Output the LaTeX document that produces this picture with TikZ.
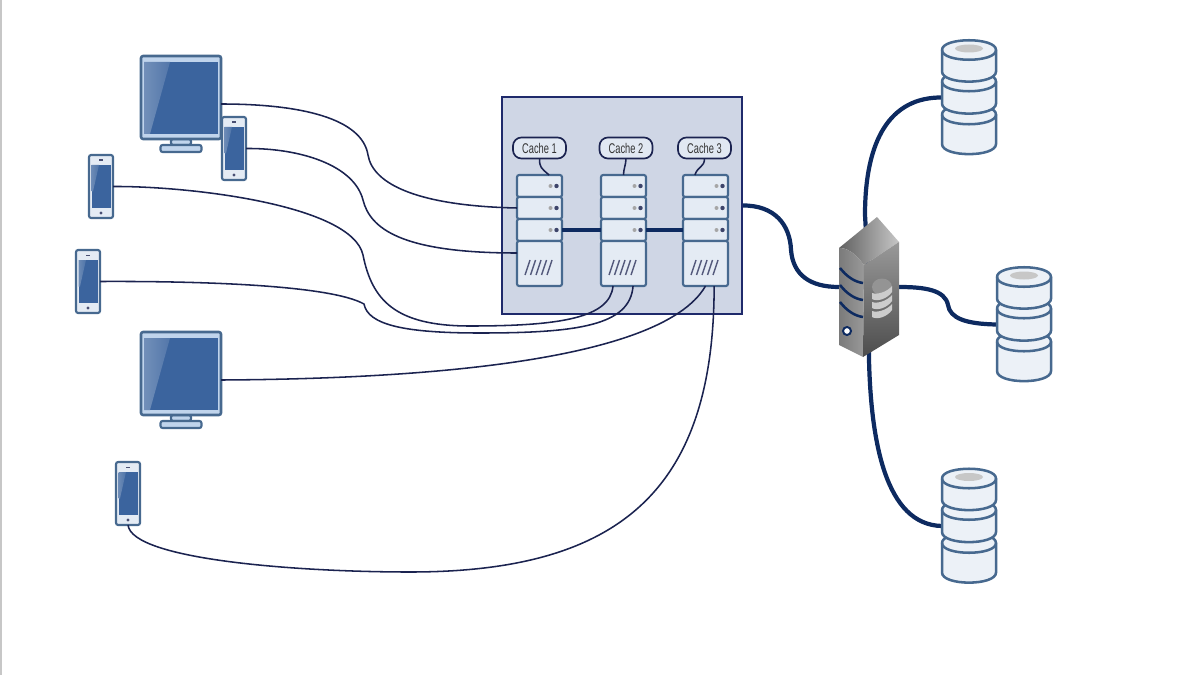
\documentclass[tikz,border=0pt]{standalone}
\usepackage{fontspec}
\setmainfont{Liberation Sans}
\newfontfamily\cachefont{Liberation Sans}[FakeStretch=.66]
\usepackage{xcolor}
\usetikzlibrary{backgrounds}
\definecolor{wire}{HTML}{1B2350}
\definecolor{trunk}{HTML}{0D2A60}
\definecolor{edge}{HTML}{47698F}
\definecolor{pale}{HTML}{E4EBF4}
\definecolor{frame}{HTML}{C0D4EC}
\definecolor{screen}{HTML}{3B649E}
\definecolor{boxfill}{HTML}{CFD6E5}
\definecolor{boxline}{HTML}{1F2A6B}

\begin{document}
\begin{tikzpicture}[
    x=0.025cm,y=-0.025cm,
    every node/.style={outer sep=0pt,inner sep=0pt},
    thin wire/.style={wire,line width=1.1pt},
    thick wire/.style={trunk,line width=3pt},
    part/.style={draw=edge,fill=pale,line width=1.5pt,rounded corners=1.5pt},
    unit/.style={part,minimum width=1.125cm,minimum height=0.55cm},
    base unit/.style={part,minimum width=1.125cm,minimum height=1.125cm},
    cache tag/.style={draw=wire,fill=pale!85!boxfill,line width=1.2pt,rounded corners=6pt,
        minimum width=1.325cm,minimum height=0.525cm,font=\cachefont\fontsize{10}{12}\selectfont,text=black!80},
    pics/monitor/.style={code={
        \node[minimum width=2cm,minimum height=2.4cm] (-body) at (0,0) {};
        \draw[part,fill=frame] (-10,35) rectangle (10,41);
        \draw[part,fill=frame] (-20.5,41) rectangle (20.5,48);
        \draw[part,fill=frame,line width=1.8pt] (-40,-48) rectangle (40,35);
        \fill[screen] (-37,-42) rectangle (37,30);
        \shade[left color=screen!72!white,right color=screen!88!white] (-37,-42) -- (-11,-42) -- (-31,30) -- (-37,30) -- cycle;
    }},
    pics/phone/.style={code={
        \node[part,minimum width=0.6cm,minimum height=1.575cm] (-body) at (0,0) {};
        \fill[screen] (-9.5,-21.5) rectangle (9.5,21.5);
        \shade[left color=screen!75!white,right color=screen!90!white] (-9.5,-21.5) -- (-2,-21.5) -- (-8,5) -- (-9.5,5) -- cycle;
        \fill[wire!80] (-2,-27) rectangle (2,-25.5);
        \fill[wire!80] (0,26.5) circle (1.7);
    }},
    pics/barrel/.style={code={
        \node[minimum width=1.35cm,minimum height=2.875cm] (-body) at (0,0) {};
        % bottom disc first, the upper ones lie over it
        \foreach \t/\b in {17/46.5,-16/6,-47.5/-26} {
            \draw[draw=edge,fill=pale!70!white,line width=1.8pt]
                (-27,\t) -- (-27,\b) .. controls (-27,\b+13.5) and (27,\b+13.5) .. (27,\b)
                -- (27,\t) .. controls (27,\t-13) and (-27,\t-13) .. (-27,\t) -- cycle;
            \draw[edge,line width=1.8pt] (-27,\t) .. controls (-27,\t+13) and (27,\t+13) .. (27,\t);
        }
        \fill[black!22] (0,-49) ellipse (14 and 4);
    }},
]
\useasboundingbox (0,0) rectangle (1200,675);
\draw[black!22,line width=1.4pt] (1,0) -- (1,675);

% Cache cluster
\node[draw=boxline,fill=boxfill,line width=1.1pt,minimum width=6cm,minimum height=5.425cm] (cluster) at (622,205.5) {};

\foreach \n/\x/\tx in {1/539.5/539.5,2/623.5/626,3/705.5/704.5} {
    \node[unit] (c\n a) at (\x,186) {};
    \node[unit] (c\n b) at (\x,208) {};
    \node[unit] (c\n c) at (\x,230) {};
    \node[base unit] (c\n d) at (\x,263.5) {};
    \node[cache tag] (tag\n) at (\tx,148) {Cache \n};
    \foreach \y in {186,208,230} {
        \fill[black!35] (\x+11,\y) circle (2);
        \fill[wire!85] (\x+17,\y) circle (2.2);
    }
    \foreach \s in {-12,-6.5,-1,4.5,10} {
        \draw[wire!75,line width=1pt] (\x+\s-2.5,275) -- (\x+\s+2.5,260);
    }
}
\draw[wire,line width=1.1pt] (tag1.south) .. controls +(0,9) and +(-8,-7) .. (c1a.49);
\draw[wire,line width=1.1pt] (tag2.south) .. controls +(0,6) and +(0,-6) .. (c2a.north);
\draw[wire,line width=1.1pt] (tag3.south) .. controls +(0,9) and +(3,-9) .. (c3a.134);

% Links along the cluster
\draw[trunk,line width=3.4pt] (c1c.east) -- (c2c.west);
\draw[trunk,line width=3.4pt] (c2c.east) -- (c3c.west);

% Client devices
\pic (mon1) at (181,104) {monitor};
\pic (mon2) at (181,380) {monitor};
\pic (ph1) at (234,148.5) {phone};
\pic (ph2) at (101,186.5) {phone};
\pic (ph3) at (88,281.5) {phone};
\pic (ph4) at (128,493.5) {phone};

% Client wires
\draw[thin wire] (mon1-body.east) .. controls (300,104) and (362,118) .. (368,155)
    .. controls (373,185) and (420,206) .. (c1b.west);
\draw[thin wire] (ph1-body.east) .. controls (300,148) and (354,165) .. (363,200)
    .. controls (370,228) and (400,253) .. (c1d.155);
\draw[thin wire] (ph2-body.east) .. controls (190,186) and (352,205) .. (363,255)
    .. controls (372,300) and (395,326) .. (470,326)
    .. controls (560,326) and (610,318) .. (c2d.245);
\draw[thin wire] (ph3-body.east) .. controls (200,281) and (330,285) .. (364,304)
    .. controls (368,325) and (405,333) .. (480,333)
    .. controls (580,333) and (630,325) .. (c2d.293);
\draw[thin wire] (mon2-body.east) .. controls (400,379) and (660,365) .. (c3d.south);
\draw[thin wire] (ph4-body.south) .. controls (132,560) and (300,572) .. (410,572)
    .. controls (620,572) and (714,490) .. (c3d.291);

% Storage
\pic (db1) at (969,97.5) {barrel};
\pic (db2) at (1024,324.5) {barrel};
\pic (db3) at (969,526) {barrel};

% Tower sits over the ends of its wires
\node[minimum width=1.5cm,minimum height=3.5cm] (tower) at (869,287) {};
\begin{scope}[on background layer]
\draw[thick wire] (cluster.east) .. controls (775,205) and (790,225) .. (791,250)
    .. controls (793,275) and (810,287) .. (tower.west);
\draw[thick wire] (tower.center) -- (865,215) .. controls (865,140) and (890,97) .. (db1-body.west);
\draw[thick wire] (tower.east) .. controls (925,287) and (945,290) .. (948,305)
    .. controls (950,318) and (965,324) .. (db2-body.west);
\draw[thick wire] (tower.center) -- (869,360) .. controls (871,440) and (885,525) .. (db3-body.west);
\end{scope}

\begin{scope}[shift={(869,287)}]
\shade[left color=black!62,right color=black!22] (8,-70) -- (30,-45) -- (-5,-22) .. controls (-15,-35) and (-22,-39) .. (-30,-39) -- cycle;
\shade[left color=black!52,middle color=black!12,right color=black!40] (-30,-39) .. controls (-22,-39) and (-15,-35) .. (-5,-22) -- (-6,70) -- (-30,58) -- cycle;
\shade[top color=black!40,bottom color=black!70] (30,-45) -- (30,48) -- (-6,70) -- (-5,-22) -- cycle;
\foreach \y in {-19,-2,15} {
    \draw[trunk,line width=1.8pt] (-29,\y) .. controls (-22,\y+9) and (-14,\y+14) .. (-6,\y+15);
}
\fill[white] (-22,44) circle (3.5);
\draw[trunk,line width=1.4pt] (-22,44) circle (4);
\fill[black!42] (13,0) ellipse (10 and 8.5);
\foreach \y in {24,15,6} {
    \fill[black!20] (3,\y) -- (3,\y+6) .. controls (8,\y+9) and (18,\y+6) .. (23,\y-1) -- (23,\y-7) .. controls (18,\y-1) and (8,\y+2) .. (3,\y) -- cycle;
}
\end{scope}
\end{tikzpicture}
\end{document}
